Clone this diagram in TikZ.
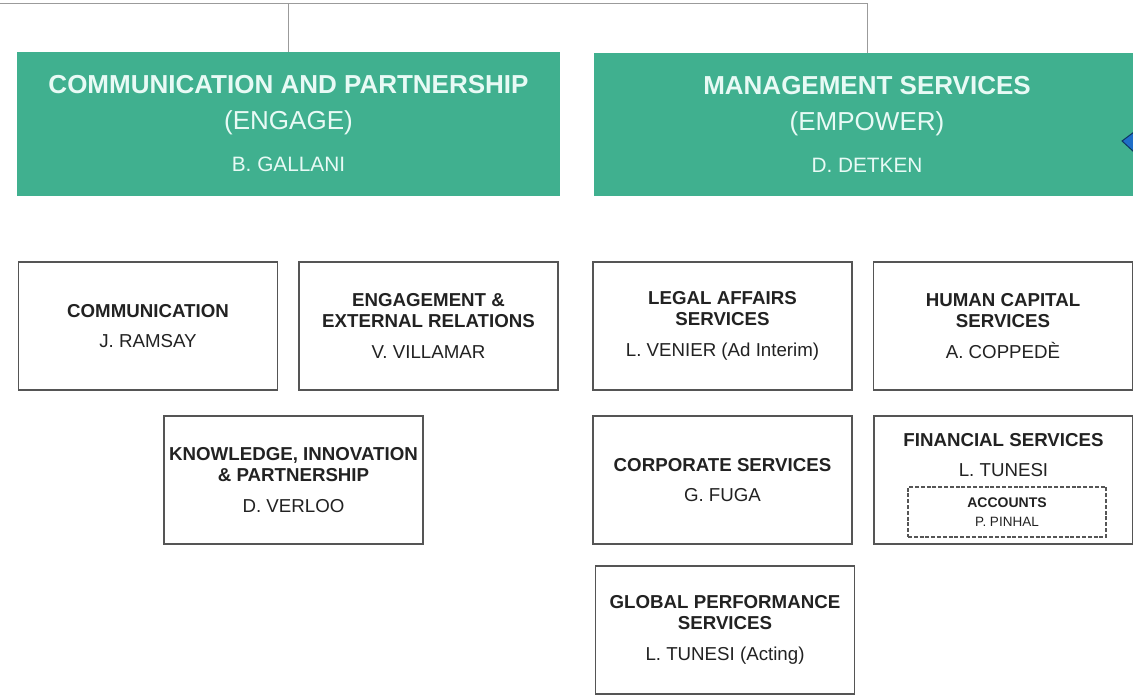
\documentclass[tikz,border=0pt]{standalone}
\usepackage{fontspec}
\setmainfont{Liberation Sans}
\usepackage{xcolor}
\usetikzlibrary{positioning}

\definecolor{engreen}{RGB}{64,176,143}
\definecolor{headtext}{RGB}{232,250,245}
\definecolor{unitgray}{RGB}{85,85,85}
\definecolor{unittext}{RGB}{34,34,34}
\definecolor{linkgray}{RGB}{155,155,155}
\definecolor{tipblue}{RGB}{30,110,200}

\begin{document}
\begin{tikzpicture}[x=1pt,y=-1pt,
	directorate/.style={fill=engreen,text=headtext,align=center,inner sep=0pt,
		font=\fontsize{26}{36}\selectfont},
	dept/.style={draw=unitgray,line width=1.3pt,fill=white,text=unittext,align=center,
		inner sep=0pt,minimum width=259pt,minimum height=128pt,font=\fontsize{18.7}{21}\selectfont},
	depttext/.style={text=unittext,align=center,inner sep=0pt,font=\fontsize{18.7}{21}\selectfont},
	subunit/.style={draw=unitgray,dash pattern=on 4pt off 1.8pt,line width=1.1pt,text=unittext,align=center,
		inner sep=0pt,minimum width=198pt,minimum height=50pt,font=\fontsize{14}{19}\selectfont},
	link/.style={draw=linkgray,line width=0.9pt}]
	\useasboundingbox (0,0) rectangle (1133,695);
	\clip (0,0) rectangle (1133,695);

	% directorates
	\node[directorate,minimum width=543pt,minimum height=144pt] (engage) at (288.5,124)
		{\textbf{COMMUNICATION AND PARTNERSHIP}\\(ENGAGE)\\[6pt]{\fontsize{20.8}{24}\selectfont B. GALLANI}};
	\node[directorate,minimum width=546pt,minimum height=143pt] (empower) at (867,124.5)
		{\textbf{MANAGEMENT SERVICES}\\(EMPOWER)\\[6pt]{\fontsize{20.8}{24}\selectfont D. DETKEN}};

	% connectors from above
	\coordinate (topleft) at (0,3);
	\draw[link] (topleft) -| (empower.north);
	\draw[link] (engage.north) -- (engage.north |- topleft);

	% engage units
	\node[dept] (comm) at (148,326) {\textbf{COMMUNICATION}\\[9pt]J. RAMSAY};
	\node[dept] (extrel) at (428.5,326) {\textbf{ENGAGEMENT \&}\\\textbf{EXTERNAL RELATIONS}\\[10pt]V. VILLAMAR};
	\node[dept] (knowledge) at (293.5,480) {\textbf{KNOWLEDGE, INNOVATION}\\\textbf{\& PARTNERSHIP}\\[10pt]D. VERLOO};

	% empower units
	\node[dept] (legal) at (722.5,326) {\textbf{LEGAL AFFAIRS}\\\textbf{SERVICES}\\[10pt]L. VENIER (Ad Interim)};
	\node[dept] (human) at (1003,326) {\textbf{HUMAN CAPITAL}\\\textbf{SERVICES}\\[10pt]A. COPPEDÈ};
	\node[dept] (corporate) at (722.5,480) {\textbf{CORPORATE SERVICES}\\[9pt]G. FUGA};
	\node[dept] (financial) at (1003.5,480) {};
	\node[depttext] (fintitle) at (1003.5,455) {\textbf{FINANCIAL SERVICES}\\[9pt]L. TUNESI};
	\node[subunit] (accounts) at (1007,512) {\textbf{ACCOUNTS}\\{\fontsize{13.5}{14}\selectfont P. PINHAL}};
	\node[dept] (globalperf) at (725,630) {\textbf{GLOBAL PERFORMANCE}\\\textbf{SERVICES}\\[10pt]L. TUNESI (Acting)};

	% arrow tip cut at the right edge
	\fill[tipblue,draw=tipblue!50!black,line width=1pt] (1122,141) -- (1134,132) -- (1134,152) -- cycle;
\end{tikzpicture}
\end{document}
